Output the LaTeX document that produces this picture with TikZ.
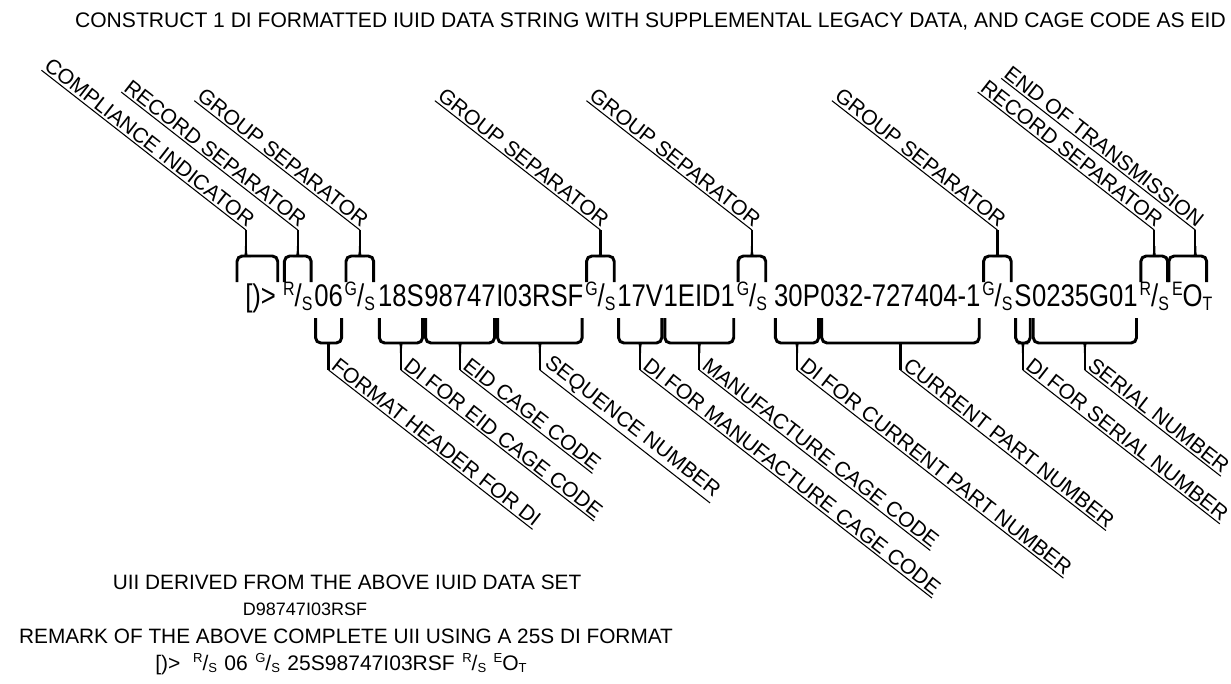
\documentclass[tikz,border=0pt]{standalone}
\usepackage{fontspec}
\setmainfont{Liberation Sans}
\newfontfamily\strfont[FakeStretch=0.82]{Liberation Sans}
\usepackage{graphicx}
\usetikzlibrary{positioning,calc}
\newcommand\ctl[2]{\raisebox{.34em}{\scalebox{.62}{#1}}/\raisebox{-.14em}{\scalebox{.62}{#2}}}
\newcommand\eot{\raisebox{.34em}{\scalebox{.62}{E}}O\raisebox{-.14em}{\scalebox{.62}{T}}}
\tikzset{
  seg/.style    = {inner sep=0pt, font=\strfont\fontsize{23.5}{23.5}\selectfont},
  uplab/.style  = {rotate=-38, anchor=south east, inner xsep=0pt, inner ysep=1.5pt,
                   font=\fontsize{15.8}{15.8}\selectfont},
  lowlab/.style = {rotate=-38, anchor=south west, inner xsep=0pt, inner ysep=1.5pt,
                   font=\fontsize{15.8}{15.8}\selectfont},
  brc/.style    = {line width=2.2pt, rounded corners=4pt},
  stem/.style   = {line width=1.7pt},
  uline/.style  = {line width=0.8pt},
  note/.style   = {anchor=base, inner sep=0pt, font=\fontsize{15.6}{15.6}\selectfont},
}
\begin{document}
\begin{tikzpicture}[x=0.75pt,y=-0.75pt]
\useasboundingbox (0,0) rectangle (1231,683);
\node[note,anchor=base east,font=\fontsize{15.8}{15.8}\selectfont] (title) at (1226,27)
  {CONSTRUCT 1 DI FORMATTED IUID DATA STRING WITH SUPPLEMENTAL LEGACY DATA, AND CAGE CODE AS EID};
% the data string, piece by piece
\node[seg,anchor=base west] (hdr) at (245,306) {[)>};
\node[seg,base right=5pt of hdr] (rsA) {\ctl{R}{S}};
\node[seg,base right=1pt of rsA] (fmt) {06};
\node[seg,base right=1pt of fmt] (gsA) {\ctl{G}{S}};
\node[seg,base right=2pt of gsA] (eidDI) {18S};
\node[seg,base right=0pt of eidDI] (eidCage) {98747};
\node[seg,base right=0pt of eidCage] (seqNo) {I03RSF};
\node[seg,base right=1pt of seqNo] (gsB) {\ctl{G}{S}};
\node[seg,base right=1pt of gsB] (mfrDI) {17V};
\node[seg,base right=0pt of mfrDI] (mfrCage) {1EID1};
\node[seg,base right=1pt of mfrCage] (gsC) {\ctl{G}{S}};
\node[seg,base right=5pt of gsC] (pnDI) {30P};
\node[seg,base right=0pt of pnDI] (pnNo) {032-727404-1};
\node[seg,base right=1pt of pnNo] (gsD) {\ctl{G}{S}};
\node[seg,base right=1pt of gsD] (serDI) {S};
\node[seg,base right=0pt of serDI] (serNo) {0235G01};
\node[seg,base right=1pt of serNo] (rsB) {\ctl{R}{S}};
\node[seg,base right=2pt of rsB] (eot) {\eot};
\coordinate (upY) at (0,282);
\coordinate (lowY) at (0,318);
% braces above the string
\foreach \seg/\ldx/\rdx/\fr/\lab/\txt in {hdr/-8/1.5/0.22/lCI/COMPLIANCE INDICATOR,
    rsA/1.5/-1.5/0.5/lRSa/RECORD SEPARATOR, gsA/1.5/-1.5/0.5/lGSa/GROUP SEPARATOR,
    gsB/1.5/-1.5/0.5/lGSb/GROUP SEPARATOR, gsC/1.5/-1.5/0.5/lGSc/GROUP SEPARATOR,
    gsD/1.5/-1.5/0.5/lGSd/GROUP SEPARATOR, rsB/1.5/-1.5/0.5/lRSb/RECORD SEPARATOR,
    eot/-3/-6/0.7/lEOT/END OF TRANSMISSION}{
  \coordinate (bl) at ($(\seg.west |- upY)+(\ldx,0)$);
  \coordinate (br) at ($(\seg.east |- upY)+(\rdx,0)$);
  \coordinate (bm) at ($(bl)!\fr!(br)+(0,-26)$);
  \node[uplab] (\lab) at ($(bm)+(0,-26)$) {\txt};
  \draw[uline] (\lab.south west) -- (\lab.south east);
  \draw[stem] (bm) -- (\lab.south east);
  \draw[brc] (bl) -- (bl |- bm) -- (bm) -- (br |- bm) -- (br);
  \fill ($(bm)+(-5,1)$) .. controls ($(bm)+(-1,0)$) .. ($(bm)+(-1,-10)$)
    -- ($(bm)+(1,-10)$) .. controls ($(bm)+(1,0)$) .. ($(bm)+(5,1)$) -- cycle;
}
% braces below the string
\foreach \seg/\fr/\lab/\txt in {fmt/0.5/lFmt/FORMAT HEADER FOR DI,
    eidDI/0.5/lEidDI/DI FOR EID CAGE CODE, eidCage/0.5/lEidCage/EID CAGE CODE,
    seqNo/0.5/lSeq/SEQUENCE NUMBER, mfrDI/0.5/lMfrDI/DI FOR MANUFACTURE CAGE CODE,
    mfrCage/0.5/lMfrCage/MANUFACTURE CAGE CODE, pnDI/0.5/lPnDI/DI FOR CURRENT PART NUMBER,
    pnNo/0.5/lPnNo/CURRENT PART NUMBER, serDI/0.5/lSerDI/DI FOR SERIAL NUMBER,
    serNo/0.5/lSerNo/SERIAL NUMBER}{
  \coordinate (tl) at ($(\seg.west |- lowY)+(1.5,0)$);
  \coordinate (tr) at ($(\seg.east |- lowY)+(-1.5,0)$);
  \coordinate (tm) at ($(tl)!\fr!(tr)+(0,25)$);
  \node[lowlab] (\lab) at ($(tm)+(0,27)$) {\txt};
  \draw[uline] (\lab.south west) -- (\lab.south east);
  \draw[stem] (tm) -- (\lab.south west);
  \draw[brc] (tl) -- (tl |- tm) -- (tm) -- (tr |- tm) -- (tr);
  \fill ($(tm)+(-5,-1)$) .. controls ($(tm)+(-1,0)$) .. ($(tm)+(-1,10)$)
    -- ($(tm)+(1,10)$) .. controls ($(tm)+(1,0)$) .. ($(tm)+(5,-1)$) -- cycle;
}
% notes under the picture
\node[note] (uii) at (347,589) {UII DERIVED FROM THE ABOVE IUID DATA SET};
\node[note,font=\fontsize{13.5}{13.5}\selectfont] (uiiVal) at (305,615) {D98747I03RSF};
\node[note] (remark) at (346,643) {REMARK OF THE ABOVE COMPLETE UII USING A 25S DI FORMAT};
\node[note,font=\fontsize{15.8}{15.8}\selectfont] (remarkVal) at (341,670)
  {[)>\hspace{0.6em}\ctl{R}{S}\hspace{0.35em}06\hspace{0.35em}\ctl{G}{S}\hspace{0.35em}25S98747I03RSF\hspace{0.35em}\ctl{R}{S}\hspace{0.35em}\eot};
\end{tikzpicture}
\end{document}
